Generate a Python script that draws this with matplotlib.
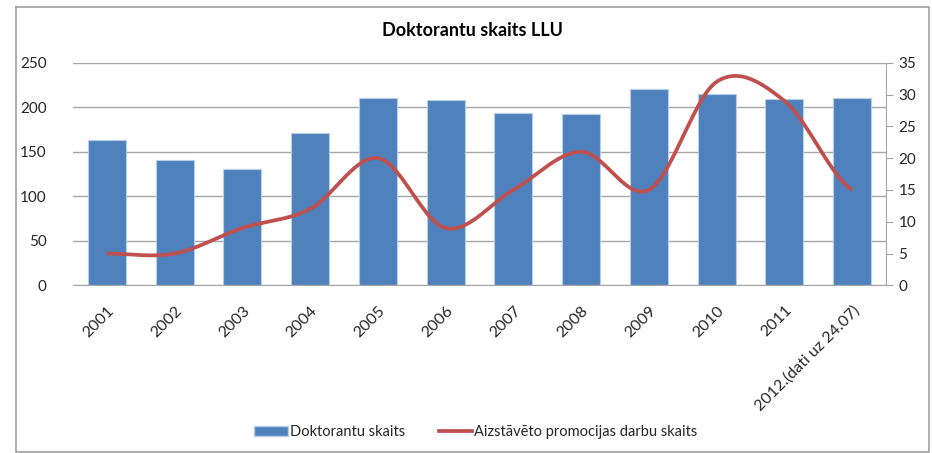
import numpy as np
import matplotlib
matplotlib.use("Agg")
import matplotlib.pyplot as plt
from matplotlib.lines import Line2D
from matplotlib.patches import Patch

plt.rcParams['font.family'] = ['Lato', 'DejaVu Sans']

categories = ["2001", "2002", "2003", "2004", "2005", "2006", "2007", "2008",
              "2009", "2010", "2011", "2012.(dati uz 24.07)"]
doktoranti = [163, 141, 131, 171, 210, 208, 194, 192, 220, 215, 209, 210]
promocijas = [5, 5, 9, 12, 20, 9, 15, 21, 15, 32, 29, 15]
left_ticks = [0, 50, 100, 150, 200, 250]
right_ticks = [0, 5, 10, 15, 20, 25, 30, 35]

title = "Doktorantu skaits LLU"
bar_label = "Doktorantu skaits"
line_label = "Aizstāvēto promocijas darbu skaits"

BLUE = "#4F81BD"
RED = "#C0504D"
GRID = "#A6A6A6"
TXT = "#262626"


def smooth(xs, ys, n=30):
    # Excel-like smoothed line (Catmull-Rom Bezier) through the data points
    xs = np.asarray(xs, float)
    ys = np.asarray(ys, float)
    px = np.concatenate([[2 * xs[0] - xs[1]], xs, [2 * xs[-1] - xs[-2]]])
    py = np.concatenate([[ys[0]], ys, [ys[-1]]])
    ox, oy = [], []
    for i in range(1, len(px) - 2):
        p0, p1, p2, p3 = (np.array([px[j], py[j]]) for j in (i - 1, i, i + 1, i + 2))
        c1 = p1 + (p2 - p0) / 6
        c2 = p2 - (p3 - p1) / 6
        t = np.linspace(0, 1, n)[:, None]
        pts = ((1 - t) ** 3) * p1 + 3 * ((1 - t) ** 2) * t * c1 + 3 * (1 - t) * t ** 2 * c2 + t ** 3 * p2
        ox.extend(pts[:, 0])
        oy.extend(pts[:, 1])
    return np.array(ox), np.array(oy)


W, H = 932, 453
fig = plt.figure(figsize=(W / 100, H / 100), dpi=100)
fig.patch.set_facecolor("white")

ax = fig.add_axes([73 / W, 1 - 285.3 / H, (886 - 73) / W, (285.3 - 62.7) / H])
x = np.arange(len(categories))
ax.bar(x, doktoranti, width=0.56, color=BLUE, edgecolor="#B9CDE5", linewidth=0.8, zorder=2)
ax.set_xlim(-0.5, len(categories) - 0.5)
ax.set_ylim(0, 250)
ax.set_yticks(left_ticks)
ax.yaxis.grid(True, color=GRID, linewidth=1.0, zorder=0)
ax.set_axisbelow(True)
for s in ["top", "right", "left"]:
    ax.spines[s].set_visible(False)
ax.spines["bottom"].set_color(GRID)
ax.tick_params(axis="y", length=0, pad=19, labelsize=11, labelcolor=TXT)
ax.tick_params(axis="x", length=0, pad=13, labelsize=11.5, labelcolor=TXT)
ax.set_xticks(x)
ax.set_xticklabels(categories, rotation=45, ha="right", va="top", rotation_mode="anchor")

ax2 = ax.twinx()
ax2.set_ylim(0, 35)
ax2.set_yticks(right_ticks)
for s in ["top", "left", "bottom"]:
    ax2.spines[s].set_visible(False)
ax2.spines["right"].set_color(GRID)
ax2.tick_params(axis="y", length=5, color=GRID, pad=4, labelsize=11, labelcolor=TXT)
sx, sy = smooth(x, promocijas)
ax2.plot(sx, sy, color=RED, linewidth=2.7, solid_capstyle="butt", zorder=3)

fig.text(472 / W, 1 - 30 / H, title, ha="center", va="center",
         fontsize=13, fontweight="bold", color="black")

handles = [Patch(facecolor=BLUE, edgecolor="#B9CDE5", label=bar_label),
           Line2D([0], [0], color=RED, linewidth=2.7, label=line_label)]
fig.legend(handles=handles, loc="center", bbox_to_anchor=(476 / W, 1 - 432 / H), ncol=2,
           frameon=False, fontsize=10.5, handlelength=2.3, handletextpad=0.15, columnspacing=2.3,
           labelcolor=TXT)

# outer chart border
bx0, bx1, by0, by1 = 16 / W, 929 / W, 1 - 7 / H, 1 - 452 / H
fig.add_artist(Line2D([bx0, bx1, bx1, bx0, bx0], [by0, by0, by1, by1, by0],
                      transform=fig.transFigure, color="#A0A0A0", linewidth=1.2))

fig.savefig("out.png", dpi=100, facecolor="white")
